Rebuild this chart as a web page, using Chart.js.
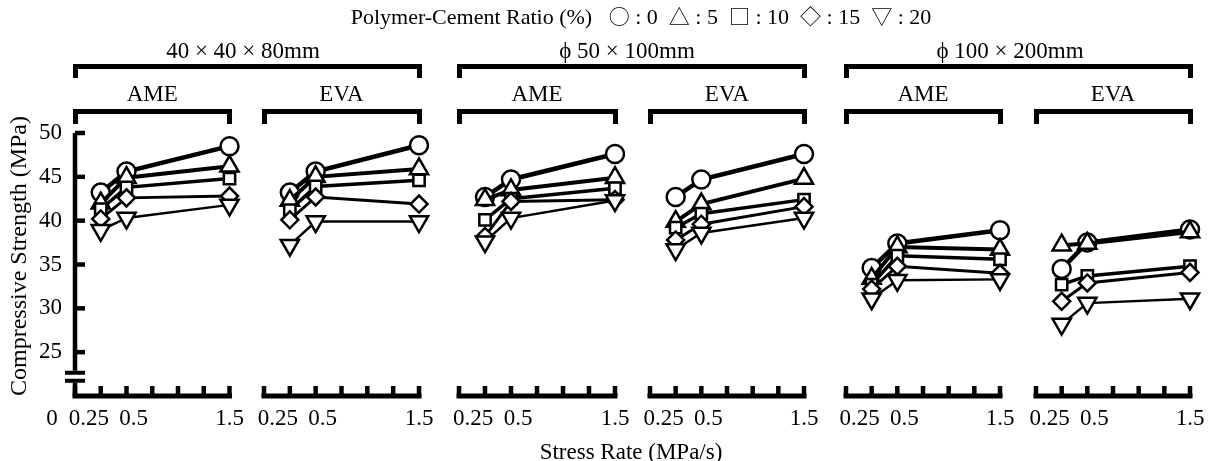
<!DOCTYPE html>
<html>
<head>
<meta charset="utf-8">
<script src="https://cdn.jsdelivr.net/npm/chart.js@4.4.1/dist/chart.umd.min.js"></script>
<style>
body { margin: 0; background: #fff; }
#wrap { position: relative; width: 1212px; height: 461px; font-family: "Liberation Serif", serif; color: #000; overflow: hidden; }
#wrap canvas { position: absolute; left: 0; top: 0; }
.txt { position: absolute; white-space: nowrap; transform: translate(-50%, -50%); line-height: 1; }
.sym { font-family: "Noto Sans CJK JP", "DejaVu Sans", sans-serif; font-size: 21px; }
.brk { position: absolute; border: 5px solid #000; border-bottom: none; box-sizing: border-box; }
</style>
</head>
<body>
<div id="wrap"></div>
<script>
// stress rates (MPa/s) and polymer-cement ratios (%)
var rates = [0.25, 0.5, 1.5];
var ratios = ['0', '5', '10', '15', '20'];

// compressive strength (MPa), one row per ratio, one column per rate
var ame40 = [[43.2, 45.6, 48.5], [42.0, 44.9, 46.2], [41.3, 43.8, 44.8], [40.2, 42.6, 42.8], [38.9, 40.3, 41.8]];
var eva40 = [[43.2, 45.6, 48.6], [42.3, 45.0, 45.9], [41.2, 43.9, 44.6], [40.1, 42.7, 41.9], [37.2, 39.9, 39.9]];
var ame50 = [[42.7, 44.7, 47.6], [42.4, 43.5, 44.9], [40.1, 42.5, 43.7], [38.2, 42.2, 42.4], [37.6, 40.3, 42.3]];
var eva50 = [[42.7, 44.7, 47.6], [39.9, 41.9, 44.8], [39.2, 40.8, 42.4], [37.8, 39.6, 41.6], [36.7, 38.6, 40.3]];
var ame100 = [[34.6, 37.4, 38.9], [33.4, 37.0, 36.7], [32.7, 36.0, 35.6], [32.2, 34.8, 34.0], [31.1, 33.2, 33.3]];
var eva100 = [[34.5, 37.5, 39.0], [37.2, 37.4, 38.7], [32.7, 33.7, 34.8], [30.8, 32.9, 34.1], [28.2, 30.6, 31.1]];

var yTicks = [25, 30, 35, 40, 45, 50];
var xTicks = [0, 0.25, 0.5, 0.75, 1.0, 1.25, 1.5];
var xLabelsFirst = [0, 0.25, 0.5, 1.5];
var xLabels = [0.25, 0.5, 1.5];

var groups = ['40 × 40 × 80mm', 'ϕ 50 × 100mm', 'ϕ 100 × 200mm'];
var polymers = ['AME', 'EVA'];

// layout (pixels)
var W = 1212, H = 461, TOP = 133, BOTTOM = 396;
var panelBox = [[75, 229.5], [264, 419], [459, 615], [650, 804], [846, 1000], [1036, 1190]];
var groupTitleX = [243, 627, 1010];
var labelShift = { '0': -23, '0.25': -12, '0.5': 7, '1.5': 0 };

// marker styles per ratio
var markers = [
    { style: 'circle', radius: 9, rot: 0, line: 4.5 },
    { style: 'triangle', radius: 10.5, rot: 0, line: 4 },
    { style: 'rect', radius: 8, rot: 0, line: 3.5 },
    { style: 'rectRot', radius: 8.5, rot: 0, line: 3 },
    { style: 'triangle', radius: 10.5, rot: 180, line: 2.4 }
];

var FONT = '23px "Liberation Serif"';
var wrap = document.getElementById('wrap');

function addText(html, x, y, size, extra) {
    var d = document.createElement('div');
    d.className = 'txt';
    d.innerHTML = html;
    d.style.left = x + 'px';
    d.style.top = y + 'px';
    d.style.fontSize = size + 'px';
    if (extra) d.style.transform = extra;
    wrap.appendChild(d);
}

function addBracket(x1, x2, y, h) {
    var d = document.createElement('div');
    d.className = 'brk';
    d.style.left = (x1 - 2.5) + 'px';
    d.style.width = (x2 - x1 + 5) + 'px';
    d.style.top = (y - 2.5) + 'px';
    d.style.height = h + 'px';
    wrap.appendChild(d);
}

// axes drawn with the chart's own scales
var frame = {
    id: 'frame',
    beforeDatasetsDraw: function (chart, args, opts) {
        var ctx = chart.ctx, xs = chart.scales.x, ys = chart.scales.y;
        var y0 = ys.getPixelForValue(20);
        var xl = xs.getPixelForValue(0), xr = xs.getPixelForValue(1.5);
        ctx.save();
        ctx.strokeStyle = '#000';
        ctx.fillStyle = '#000';
        ctx.lineWidth = 5;
        ctx.lineCap = 'butt';
        // x axis with inward ticks
        ctx.beginPath();
        ctx.moveTo(xl - 2.5, y0);
        ctx.lineTo(xr + 2.5, y0);
        ctx.stroke();
        ctx.lineWidth = 4.5;
        xTicks.forEach(function (t) {
            var px = xs.getPixelForValue(t);
            ctx.beginPath();
            ctx.moveTo(px, y0);
            ctx.lineTo(px, y0 - 10);
            ctx.stroke();
        });
        ctx.font = FONT;
        ctx.textAlign = 'center';
        ctx.textBaseline = 'middle';
        opts.labels.forEach(function (t) {
            ctx.fillText(String(t), xs.getPixelForValue(t) + labelShift[String(t)], y0 + 23);
        });
        if (opts.yAxis) {
            var top = ys.getPixelForValue(50);
            var b1 = ys.getPixelForValue(22.65), b2 = ys.getPixelForValue(21.75);
            ctx.lineWidth = 4.5;
            ctx.beginPath();
            ctx.moveTo(xl, top);
            ctx.lineTo(xl, b1 - 2);
            ctx.moveTo(xl, b2 + 2);
            ctx.lineTo(xl, y0);
            ctx.stroke();
            // axis break
            ctx.lineWidth = 4;
            ctx.beginPath();
            ctx.moveTo(xl - 10, b1);
            ctx.lineTo(xl + 10, b1);
            ctx.moveTo(xl - 10, b2);
            ctx.lineTo(xl + 10, b2);
            ctx.stroke();
            ctx.lineWidth = 4.5;
            ctx.textAlign = 'right';
            yTicks.forEach(function (v) {
                var py = ys.getPixelForValue(v);
                ctx.beginPath();
                ctx.moveTo(xl, py);
                ctx.lineTo(xl + 10, py);
                ctx.stroke();
                ctx.fillText(String(v), xl - 13, py);
            });
        }
        ctx.restore();
    }
};

var panelData = [ame40, eva40, ame50, eva50, ame100, eva100];

panelData.forEach(function (rows, p) {
    var cv = document.createElement('canvas');
    cv.width = W;
    cv.height = H;
    wrap.appendChild(cv);
    var datasets = rows.map(function (vals, i) {
        var m = markers[i];
        return {
            label: ratios[i] + '%',
            data: rates.map(function (r, k) { return { x: r, y: vals[k] }; }),
            borderColor: '#000',
            borderWidth: m.line,
            pointStyle: m.style,
            pointRadius: m.radius,
            pointRotation: m.rot,
            pointBackgroundColor: '#fff',
            pointBorderColor: '#000',
            pointBorderWidth: 2.5,
            fill: false,
            tension: 0,
            clip: false,
            order: -i
        };
    });
    new Chart(cv, {
        type: 'line',
        data: { datasets: datasets },
        options: {
            responsive: false,
            animation: false,
            events: [],
            layout: { padding: { left: panelBox[p][0], right: W - panelBox[p][1], top: TOP, bottom: H - BOTTOM } },
            plugins: {
                legend: { display: false },
                tooltip: { enabled: false },
                frame: { yAxis: p === 0, labels: p === 0 ? xLabelsFirst : xLabels }
            },
            scales: {
                x: { type: 'linear', display: false, min: 0, max: 1.5 },
                y: { type: 'linear', display: false, min: 20, max: 50 }
            }
        },
        plugins: [frame]
    });
    // panel bracket + polymer label
    addBracket(panelBox[p][0], panelBox[p][1], 111, 15);
    addText(polymers[p % 2], (panelBox[p][0] + panelBox[p][1]) / 2, 93, 23);
});

groups.forEach(function (g, k) {
    addBracket(panelBox[2 * k][0], panelBox[2 * k + 1][1], 66, 14);
    addText(g, groupTitleX[k], 50, 23);
});

var sym = ['○', '△', '□', '◇', '▽'];
var legendHtml = 'Polymer-Cement Ratio (%)&nbsp;&nbsp;&nbsp;' + ratios.map(function (r, i) {
    return '<span class="sym">' + sym[i] + '</span> : ' + r;
}).join('&nbsp;&nbsp;');
addText(legendHtml, 641, 16, 22);

addText('Compressive Strength (MPa)', 18, 256, 24, 'translate(-50%, -50%) rotate(-90deg)');
addText('Stress Rate (MPa/s)', 631, 451, 23);
</script>
</body>
</html>
